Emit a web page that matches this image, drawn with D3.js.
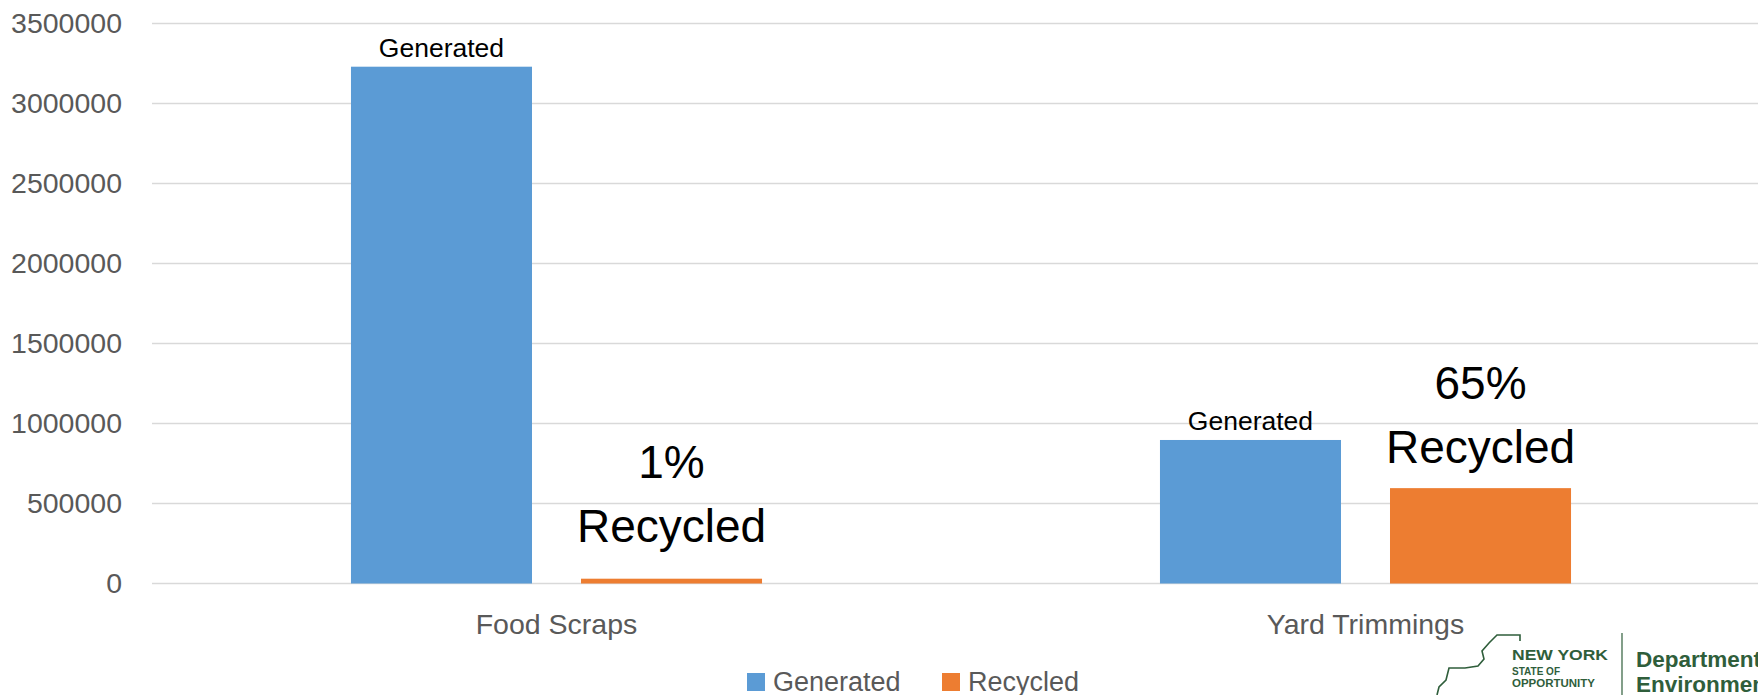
<!DOCTYPE html>
<html>
<head>
<meta charset="utf-8">
<script src="https://cdn.jsdelivr.net/npm/d3@7"></script>
<style>
  body { margin: 0; background: #fff; }
  svg { display: block; }
</style>
</head>
<body>
<div id="chart"></div>
<script>
//Data
var categories = ["Food Scraps", "Yard Trimmings"];
var seriesNames = ["Generated", "Recycled"];
var generated = [3230000, 897000];
var recycled = [30000, 596000];
var recycledPct = ["1%", "65%"];
var yTicks = [0, 500000, 1000000, 1500000, 2000000, 2500000, 3000000, 3500000];

var colors = ["#5b9bd5", "#ed7d31"];
var width = 1758, height = 695;
var font = "'Liberation Sans', Arial, sans-serif";
//how far the big labels sit above the orange bars
var bigLift = [37, 25];

//Rows for the grouped bars
var rows = categories.map(function (c, i) {
    return { cat: c, pct: recycledPct[i], lift: bigLift[i], values: [
        { key: seriesNames[0], value: generated[i] },
        { key: seriesNames[1], value: recycled[i] }
    ] };
});

var svg = d3.select("#chart").append("svg")
    .attr("width", width)
    .attr("height", height);

svg.append("rect").attr("width", width).attr("height", height).attr("fill", "#fff");

//Scales
var y = d3.scaleLinear().domain([0, 3500000]).range([583.5, 23.5]);
var x0 = d3.scaleBand().domain(categories).range([152, 1770]).padding(0);
var x1 = d3.scaleBand().domain(seriesNames).range([0, x0.bandwidth()])
    .paddingInner(0.213).paddingOuter(0.865);

//Gridlines
svg.append("g").selectAll("line")
    .data(yTicks)
    .enter().append("line")
    .attr("x1", 152).attr("x2", width)
    .attr("y1", function (d) { return y(d); })
    .attr("y2", function (d) { return y(d); })
    .attr("stroke", "#d9d9d9")
    .attr("stroke-width", 1.5);

//Y axis labels
var yAxis = svg.append("g")
    .attr("transform", "translate(122,0)")
    .call(d3.axisLeft(y).tickValues(yTicks).tickSize(0).tickPadding(0)
        .tickFormat(d3.format("d")));
yAxis.select(".domain").remove();
yAxis.selectAll("text")
    .attr("font-family", font)
    .attr("font-size", "28.5px")
    .attr("fill", "#595959");

//X axis labels
var xAxis = svg.append("g")
    .attr("transform", "translate(0,583.5)")
    .call(d3.axisBottom(x0).tickSize(0).tickPadding(0));
xAxis.select(".domain").remove();
xAxis.selectAll("text")
    .attr("dy", null)
    .attr("y", 50)
    .attr("font-family", font)
    .attr("font-size", "28.5px")
    .attr("fill", "#595959");

//Bars
var groups = svg.selectAll(".group")
    .data(rows)
    .enter().append("g")
    .attr("class", "group")
    .attr("transform", function (d) { return "translate(" + x0(d.cat) + ",0)"; });

groups.selectAll("rect")
    .data(function (d) { return d.values; })
    .enter().append("rect")
    .attr("x", function (d) { return x1(d.key); })
    .attr("width", x1.bandwidth())
    .attr("y", function (d) { return y(d.value); })
    .attr("height", function (d) { return y(0) - y(d.value); })
    .attr("fill", function (d, i) { return colors[i]; });

//"Generated" labels above blue bars
groups.append("text")
    .attr("x", x1(seriesNames[0]) + x1.bandwidth() / 2)
    .attr("y", function (d) { return y(d.values[0].value) - 10; })
    .attr("text-anchor", "middle")
    .attr("font-family", font)
    .attr("font-size", "26.5px")
    .attr("fill", "#000")
    .text(seriesNames[0]);

//Big percent labels above orange bars
var big = groups.append("text")
    .attr("text-anchor", "middle")
    .attr("font-family", font)
    .attr("font-size", "46px")
    .attr("fill", "#000");
big.append("tspan")
    .attr("x", x1(seriesNames[1]) + x1.bandwidth() / 2)
    .attr("y", function (d) { return y(d.values[1].value) - d.lift - 64; })
    .text(function (d) { return d.pct; });
big.append("tspan")
    .attr("x", x1(seriesNames[1]) + x1.bandwidth() / 2)
    .attr("y", function (d) { return y(d.values[1].value) - d.lift; })
    .text(seriesNames[1]);

//Legend
var legendX = [747, 942];
var legend = svg.selectAll(".legend")
    .data(seriesNames)
    .enter().append("g")
    .attr("class", "legend")
    .attr("transform", function (d, i) { return "translate(" + legendX[i] + ",673)"; });
legend.append("rect")
    .attr("width", 18).attr("height", 18)
    .attr("fill", function (d, i) { return colors[i]; });
legend.append("text")
    .attr("x", 26).attr("y", 18)
    .attr("font-family", font)
    .attr("font-size", "27px")
    .attr("fill", "#595959")
    .text(function (d) { return d; });

//Logo in the corner
var green = "#2f5e3b";
var logo = svg.append("g");
logo.append("path")
    .attr("d", "M1520,641 L1520,635 L1497,635 L1489,643 L1482,651 L1484,659 L1478,666 L1465,668 L1449,668 L1446,680 L1439,687 L1437,695")
    .attr("fill", "none")
    .attr("stroke", green)
    .attr("stroke-width", 1.6);
logo.append("line")
    .attr("x1", 1622).attr("x2", 1622).attr("y1", 633).attr("y2", 695)
    .attr("stroke", green).attr("stroke-width", 1.2);
logo.append("text")
    .attr("x", 1512).attr("y", 660)
    .attr("font-family", font).attr("font-weight", "bold")
    .attr("font-size", "15px")
    .attr("textLength", 96).attr("lengthAdjust", "spacingAndGlyphs")
    .attr("fill", green).text("NEW YORK");
logo.append("text")
    .attr("x", 1512).attr("y", 675)
    .attr("font-family", font).attr("font-weight", "bold").attr("font-size", "10.5px")
    .attr("textLength", 48).attr("lengthAdjust", "spacingAndGlyphs")
    .attr("fill", green).text("STATE OF");
logo.append("text")
    .attr("x", 1512).attr("y", 687)
    .attr("font-family", font).attr("font-weight", "bold").attr("font-size", "10.5px")
    .attr("textLength", 83).attr("lengthAdjust", "spacingAndGlyphs")
    .attr("fill", green).text("OPPORTUNITY");
logo.append("text")
    .attr("x", 1636).attr("y", 667)
    .attr("font-family", font).attr("font-weight", "bold")
    .attr("font-size", "22.5px")
    .attr("fill", green).text("Department of");
logo.append("text")
    .attr("x", 1636).attr("y", 692)
    .attr("font-family", font).attr("font-weight", "bold")
    .attr("font-size", "22.5px")
    .attr("fill", green).text("Environmental");
</script>
</body>
</html>
